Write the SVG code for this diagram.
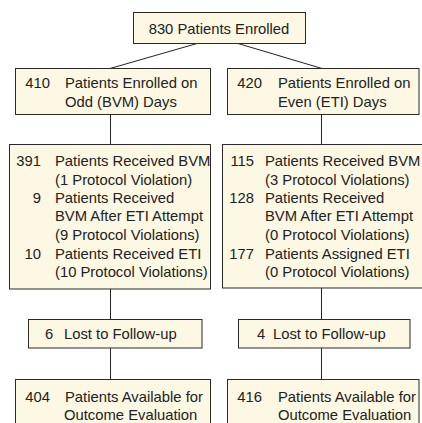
<svg xmlns="http://www.w3.org/2000/svg" width="422" height="423" viewBox="0 0 422 423">
<style>
.box{fill:#fcf8e4;stroke:#2a2a2a;stroke-width:1}
.t{font-family:"Liberation Sans",Arial,sans-serif;font-size:14.8px;fill:#222}
.n{text-anchor:end}
.c{text-anchor:middle}
.ln{stroke:#222;stroke-width:1;fill:none}
</style>
<rect width="422" height="423" fill="#fff"/>
<g id="connectors">
<line class="ln" x1="197" y1="43.5" x2="110" y2="68.5"/>
<line class="ln" x1="238" y1="43.5" x2="322" y2="68.5"/>
<line class="ln" x1="110.5" y1="115" x2="110.5" y2="145"/>
<line class="ln" x1="321.5" y1="115" x2="321.5" y2="145"/>
<line class="ln" x1="110.5" y1="289" x2="110.5" y2="319"/>
<line class="ln" x1="321.5" y1="288" x2="321.5" y2="319"/>
<line class="ln" x1="110.5" y1="348" x2="110.5" y2="379"/>
<line class="ln" x1="321.5" y1="348" x2="321.5" y2="379"/>
</g>
<g id="enrolled">
<rect class="box" x="133.5" y="12.5" width="172" height="31"/>
<text class="t c" x="219" y="34">830 Patients Enrolled</text>
</g>
<g id="odd">
<rect class="box" x="15.5" y="68.5" width="195" height="46"/>
<text class="t n" x="50" y="88">410</text>
<text class="t" x="65" y="88">Patients Enrolled on</text>
<text class="t" x="65" y="107">Odd (BVM) Days</text>
</g>
<g id="even">
<rect class="box" x="227.5" y="68.5" width="191.5" height="46"/>
<text class="t n" x="262" y="88">420</text>
<text class="t" x="278" y="88">Patients Enrolled on</text>
<text class="t" x="278" y="107">Even (ETI) Days</text>
</g>
<g id="bvm-arm">
<rect class="box" x="9.5" y="144.5" width="201" height="144.5"/>
<text class="t n" x="41" y="166">391</text>
<text class="t" x="55" y="166">Patients Received BVM</text>
<text class="t" x="55" y="185">(1 Protocol Violation)</text>
<text class="t n" x="41" y="203">9</text>
<text class="t" x="55" y="203">Patients Received</text>
<text class="t" x="55" y="221">BVM After ETI Attempt</text>
<text class="t" x="55" y="240">(9 Protocol Violations)</text>
<text class="t n" x="41" y="259">10</text>
<text class="t" x="55" y="259">Patients Received ETI</text>
<text class="t" x="55" y="277">(10 Protocol Violations)</text>
</g>
<g id="eti-arm">
<rect class="box" x="222.5" y="144.5" width="202" height="143.5"/>
<text class="t n" x="254" y="166">115</text>
<text class="t" x="265" y="166">Patients Received BVM</text>
<text class="t" x="265" y="185">(3 Protocol Violations)</text>
<text class="t n" x="254" y="203">128</text>
<text class="t" x="265" y="203">Patients Received</text>
<text class="t" x="265" y="221">BVM After ETI Attempt</text>
<text class="t" x="265" y="240">(0 Protocol Violations)</text>
<text class="t n" x="254" y="259">177</text>
<text class="t" x="265" y="259">Patients Assigned ETI</text>
<text class="t" x="265" y="277">(0 Protocol Violations)</text>
</g>
<g id="lost-left">
<rect class="box" x="28.5" y="319.5" width="173.5" height="28.5"/>
<text class="t" x="45" y="339">6</text>
<text class="t" x="64" y="339">Lost to Follow-up</text>
</g>
<g id="lost-right">
<rect class="box" x="238.5" y="319.5" width="171.5" height="28.5"/>
<text class="t" x="257" y="339">4</text>
<text class="t" x="273" y="339">Lost to Follow-up</text>
</g>
<g id="avail-left">
<rect class="box" x="15.5" y="379.5" width="195" height="50"/>
<text class="t n" x="50" y="402">404</text>
<text class="t" x="65" y="402">Patients Available for</text>
<text class="t" x="64" y="420">Outcome Evaluation</text>
</g>
<g id="avail-right">
<rect class="box" x="227.5" y="379.5" width="191.5" height="50"/>
<text class="t n" x="262" y="402">416</text>
<text class="t" x="278" y="402">Patients Available for</text>
<text class="t" x="278" y="420">Outcome Evaluation</text>
</g>
</svg>
